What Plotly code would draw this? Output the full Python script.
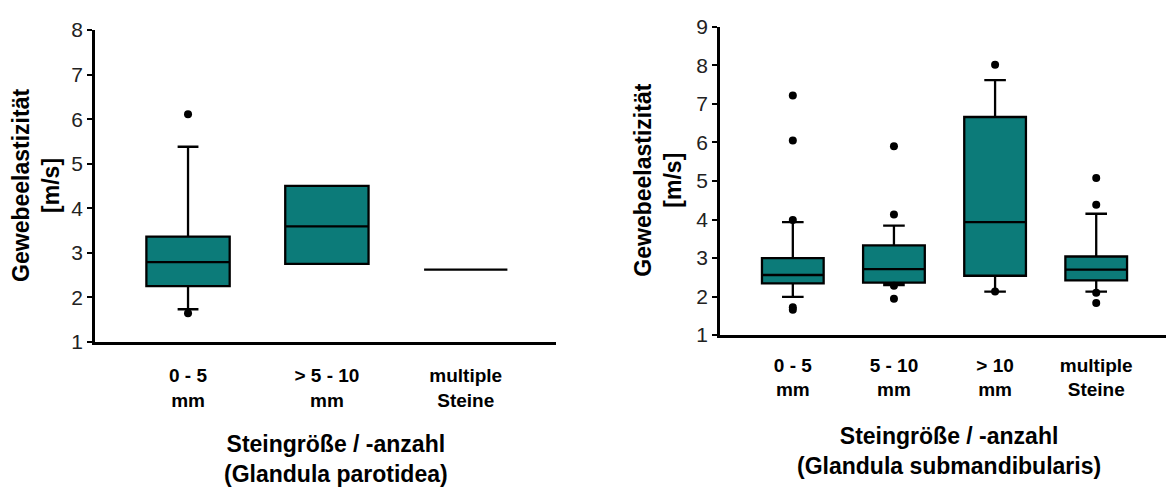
import plotly.graph_objects as go

# ---------------- data ----------------
# Left: Glandula parotidea
cats_p = ["0 - 5<br>mm", "> 5 - 10<br>mm", "multiple<br>Steine"]
q1_p = [2.25, 2.75, 2.62]
med_p = [2.79, 3.59, 2.62]
q3_p = [3.36, 4.50, 2.62]
lo_p = [1.73, 2.75, 2.62]
hi_p = [5.38, 4.50, 2.62]
out_x_p = ["0 - 5<br>mm", "0 - 5<br>mm"]
out_y_p = [6.11, 1.64]

# Right: Glandula submandibularis
cats_s = ["0 - 5<br>mm", "5 - 10<br>mm", "> 10<br>mm", "multiple<br>Steine"]
q1_s = [2.34, 2.36, 2.54, 2.42]
med_s = [2.56, 2.71, 3.93, 2.70]
q3_s = [3.00, 3.33, 6.66, 3.04]
lo_s = [1.99, 2.30, 2.13, 2.13]
hi_s = [3.93, 3.84, 7.62, 4.15]
out_x_s = ["0 - 5<br>mm", "0 - 5<br>mm", "0 - 5<br>mm", "0 - 5<br>mm", "0 - 5<br>mm",
           "5 - 10<br>mm", "5 - 10<br>mm", "5 - 10<br>mm", "5 - 10<br>mm",
           "> 10<br>mm", "> 10<br>mm",
           "multiple<br>Steine", "multiple<br>Steine", "multiple<br>Steine", "multiple<br>Steine"]
out_y_s = [7.22, 6.05, 3.99, 1.72, 1.66,
           5.90, 4.13, 2.28, 1.94,
           8.02, 2.13,
           5.08, 4.38, 2.10, 1.83]

y_title = "Gewebeelastizität<br>[m/s]"
x_title_p = "Steingröße / -anzahl<br>(Glandula parotidea)"
x_title_s = "Steingröße / -anzahl<br>(Glandula submandibularis)"

# ---------------- style ----------------
W, H = 1166, 490
TEAL = "#0c7b79"
FONT = "Arial, 'Liberation Sans', sans-serif"

def px(x):
    return x / W

def py(y):
    return (H - y) / H

fig = go.Figure()

fig.add_trace(go.Box(
    x=cats_p, q1=q1_p, median=med_p, q3=q3_p, lowerfence=lo_p, upperfence=hi_p,
    fillcolor=TEAL, line=dict(color="black", width=2.3), whiskerwidth=0.25,
    width=0.6, boxpoints=False, xaxis="x", yaxis="y", showlegend=False, hoverinfo="skip"))
fig.add_trace(go.Scatter(
    x=out_x_p, y=out_y_p, mode="markers", marker=dict(color="black", size=8),
    xaxis="x", yaxis="y", showlegend=False, hoverinfo="skip"))

fig.add_trace(go.Box(
    x=cats_s, q1=q1_s, median=med_s, q3=q3_s, lowerfence=lo_s, upperfence=hi_s,
    fillcolor=TEAL, line=dict(color="black", width=2.3), whiskerwidth=0.35,
    width=0.61, boxpoints=False, xaxis="x2", yaxis="y2", showlegend=False, hoverinfo="skip"))
fig.add_trace(go.Scatter(
    x=out_x_s, y=out_y_s, mode="markers", marker=dict(color="black", size=8),
    xaxis="x2", yaxis="y2", showlegend=False, hoverinfo="skip"))

xaxis_common = dict(
    type="category", showline=True, linecolor="black", linewidth=2.5,
    showgrid=False, zeroline=False, ticks="outside",
    tickcolor="rgba(0,0,0,0)", tickfont=dict(family=FONT, size=19, color="black", weight="bold"),
)
yaxis_common = dict(
    showline=True, linecolor="black", linewidth=2.5, showgrid=False, zeroline=False,
    ticks="outside", ticklen=5, tickwidth=1.5, tickcolor="black", dtick=1,
    tickfont=dict(family=FONT, size=21, color="#222222"),
)

fig.update_layout(
    width=W, height=H, margin=dict(l=0, r=0, t=0, b=0),
    paper_bgcolor="white", plot_bgcolor="white",
    xaxis=dict(xaxis_common, domain=[px(95), px(556)], anchor="y", ticklen=15,
               categoryorder="array", categoryarray=cats_p, range=[-0.67, 2.65]),
    yaxis=dict(yaxis_common, domain=[py(346), py(19)], anchor="x", range=[1, 8]),
    xaxis2=dict(xaxis_common, domain=[px(720), 1.0], anchor="y2", ticklen=11,
                categoryorder="array", categoryarray=cats_s, range=[-0.72, 3.69]),
    yaxis2=dict(yaxis_common, domain=[py(339), py(15.6)], anchor="x2", range=[1, 9]),
)

title_font = dict(family=FONT, size=23, color="black", weight="bold")
fig.add_annotation(text=y_title, x=px(36), y=py(182.5), xref="paper", yref="paper",
                   textangle=-90, showarrow=False, xanchor="center", yanchor="middle",
                   font=title_font)
fig.add_annotation(text=y_title, x=px(658), y=py(177), xref="paper", yref="paper",
                   textangle=-90, showarrow=False, xanchor="center", yanchor="middle",
                   font=title_font)
fig.add_annotation(text=x_title_p, x=px(336), y=py(469), xref="paper", yref="paper",
                   showarrow=False, xanchor="center", yanchor="middle", font=title_font)
fig.add_annotation(text=x_title_s, x=px(949), y=py(461), xref="paper", yref="paper",
                   showarrow=False, xanchor="center", yanchor="middle", font=title_font)

fig.write_html("out.html")
